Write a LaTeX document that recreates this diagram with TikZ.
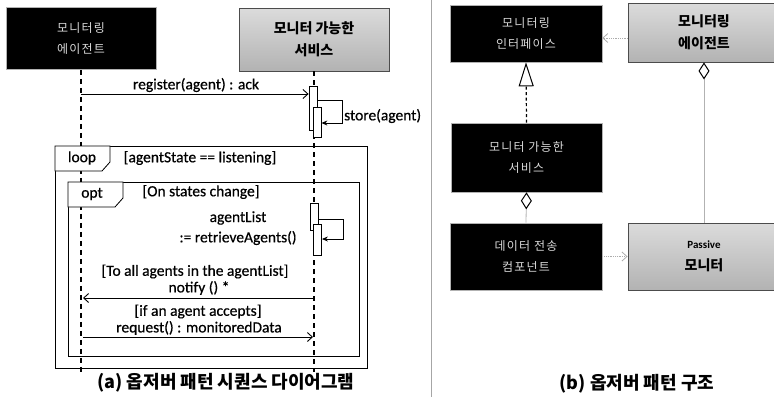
\documentclass[tikz,border=0pt]{standalone}
\usepackage{fontspec}
\setmainfont{Carlito}
\newfontfamily\lblfont[FakeBold=0.6]{Carlito}
\newfontfamily\kr{Noto Sans CJK KR}
\newfontfamily\krs[LetterSpace=10]{Noto Sans CJK KR}
\usetikzlibrary{arrows.meta}
\begin{document}
\begin{tikzpicture}[x=1pt,y=-1pt,
  blackbox/.style={rectangle, fill=black, draw=gray!60, line width=0.6pt, text=white!85!black, align=center, font=\krs\fontsize{12}{21}\selectfont, inner sep=0pt},
  graybox/.style={rectangle, draw=gray!60!black, line width=0.9pt, top color=gray!28, bottom color=gray!60, align=center, font=\kr\bfseries\fontsize{14}{22}\selectfont, inner sep=0pt},
  lifeline/.style={line width=1.4pt, dash pattern=on 5pt off 4pt},
  act/.style={draw, fill=white, line width=0.8pt, minimum width=8pt, inner sep=0pt},
  msg/.style={line width=0.9pt, -{Straight Barb[length=5pt,width=9pt]}},
  selfmsg/.style={line width=0.9pt, -{Stealth[length=6pt,width=5pt]}},
  frame/.style={line width=0.8pt},
  tag/.style={line width=0.8pt, fill=white},
  lbl/.style={font=\lblfont\fontsize{15.5}{18}\selectfont, inner sep=0pt},
  dep/.style={gray!65, line width=0.8pt, densely dotted, -{Straight Barb[length=5pt,width=9pt,sep=0pt]}},
  aggr/.style={gray!60, line width=0.8pt, {Diamond[open,length=17pt,width=11pt,color=black,line width=1pt]}-},
  capt/.style={font=\kr\bfseries\fontsize{18}{20}\selectfont, inner sep=0pt}
]
\useasboundingbox (0,0) rectangle (774,397);

% divider
\coordinate (dvt) at (431,0);
\coordinate (dvb) at (431,397);
\draw[gray!70, line width=0.8pt] (dvt) -- (dvb);

% ---------- (a) sequence diagram ----------
\node[blackbox, minimum width=150pt, minimum height=62pt] (ag) at (81,38.5) {모니터링\\에이전트};
\node[graybox, minimum width=150pt, minimum height=63pt] (sv) at (314,39.5) {모니터 가능한\\서비스};

\coordinate (agEnd) at (81,372);
\coordinate (svEnd) at (314,372);
\draw[lifeline] (ag.south) -- (agEnd);
\draw[lifeline] (sv.south) -- (svEnd);

% register
\node[act, minimum height=44pt] (a1) at (313,108) {};
\node[act, minimum height=30pt] (a2) at (317,122) {};
\coordinate (r0) at (81,94);
\draw[msg] (r0) -- (r0 -| a1.west);
\node[lbl] (reg) at (196,85) {register(agent) : ack};
\coordinate (s1) at (342,100);
\coordinate (s2) at (342,123);
\draw[selfmsg] (a1.east |- s1) -- (s1) -- (s2) -- (a2.east |- s2);
\node[lbl, anchor=west] (st) at (344,116) {store(agent)};

% loop frame
\draw[frame] (55,146) rectangle (367,368);
\draw[tag] (55,146) -- (55,171) -- (102,171) -- (110,162) -- (110,146) -- cycle;
\node[lbl] (lp) at (82,158) {loop};
\node[lbl] (lpc) at (200,158) {[agentState == listening]};

% opt frame
\draw[frame] (68,182) rectangle (359,356);
\draw[tag] (68,182) -- (68,207) -- (115,207) -- (123,198) -- (123,182) -- cycle;
\node[lbl] (op) at (92,194) {opt};
\node[lbl] (opc) at (201,192) {[On states change]};

\node[act, minimum height=27pt] (b1) at (314,216.5) {};
\node[act, minimum height=31pt] (b2) at (317.5,239.5) {};
\coordinate (s3) at (343,219);
\coordinate (s4) at (343,239);
\draw[selfmsg] (b1.east |- s3) -- (s3) -- (s4) -- (b2.east |- s4);
\node[lbl] (al) at (238,218) {agentList};
\node[lbl] (ra) at (238,238) {:= retrieveAgents()};

% notify
\coordinate (n0) at (314,298);
\coordinate (n1) at (83,298);
\draw[msg] (n0) -- (n1);
\node[lbl] (t1) at (195,271.5) {[To all agents in the agentList]};
\node[lbl] (t2) at (199,288) {notify () *};

% request
\coordinate (q0) at (83,337);
\coordinate (q1) at (313,337);
\draw[msg] (q0) -- (q1);
\node[lbl] (t3) at (198,311.5) {[if an agent accepts]};
\node[lbl] (t4) at (199,328) {request() : monitoredData};

\node[capt] (ca) at (226,383) {(a) 옵저버 패턴 시퀀스 다이어그램};

% ---------- (b) structure ----------
\node[blackbox, minimum width=152pt, minimum height=57pt] (if) at (526,33.5) {모니터링\\인터페이스};
\node[graybox, minimum width=152pt, minimum height=59pt] (ag2) at (704,32.5) {모니터링\\에이전트};
\node[blackbox, minimum width=151pt, minimum height=69pt] (svc) at (526.5,157.5) {모니터 가능한\\서비스};
\node[blackbox, minimum width=152pt, minimum height=67pt] (dt) at (526,256.5) {데이터 전송\\컴포넌트};
\node[graybox, minimum width=152pt, minimum height=67pt] (pm) at (704,256.5) {{\normalfont\bfseries\fontsize{11}{13}\selectfont Passive}\\모니터};

\coordinate (d1) at (628,38);
\draw[dep] (d1) -- (d1 -| if.east);
\draw[line width=1.2pt, dash pattern=on 3pt off 2.5pt, -{Triangle[open,length=24pt,width=15pt,line width=1pt]}] (svc.north) -- (if.south);
\draw[aggr] (svc.south) -- (dt.north);
\draw[aggr] (ag2.south) -- (pm.north);
\draw[dep] (dt.east) -- (pm.west);

\node[capt] (cb) at (637,384) {(b) 옵저버 패턴 구조};
\end{tikzpicture}
\end{document}
